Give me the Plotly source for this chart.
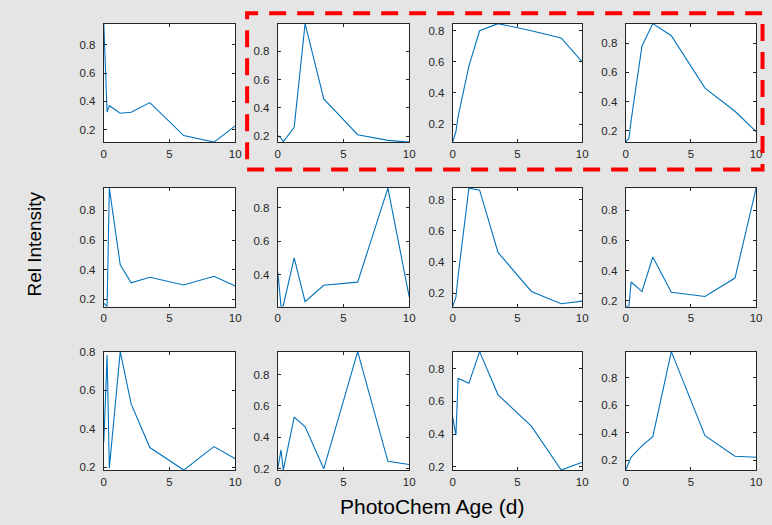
import plotly.graph_objects as go

# Photochemical age (days) sampled for every panel
age_d = [0, 0.25, 0.42, 1.25, 2.08, 3.5, 6.08, 8.38, 10.0]

# Relative intensity per panel, row-major order (3 rows x 4 columns)
rel_r1c1 = [0.949, 0.324, 0.370, 0.317, 0.324, 0.392, 0.159, 0.113, 0.227]
rel_r1c2 = [0.205, 0.185, 0.160, 0.263, 0.997, 0.464, 0.210, 0.170, 0.158]
rel_r1c3 = [0.084, 0.152, 0.250, 0.573, 0.800, 0.846, 0.800, 0.754, 0.600]
rel_r1c4 = [0.121, 0.148, 0.270, 0.782, 0.935, 0.852, 0.492, 0.333, 0.193]
rel_r2c1 = [0.175, 0.152, 0.950, 0.433, 0.312, 0.349, 0.297, 0.356, 0.290]
rel_r2c2 = [0.418, 0.209, 0.215, 0.500, 0.238, 0.336, 0.355, 0.917, 0.267]
rel_r2c3 = [0.113, 0.173, 0.310, 0.873, 0.860, 0.460, 0.210, 0.131, 0.148]
rel_r2c4 = [0.167, 0.161, 0.324, 0.260, 0.490, 0.256, 0.228, 0.350, 0.947]
rel_r3c1 = [0.328, 0.783, 0.195, 0.801, 0.529, 0.302, 0.185, 0.307, 0.244]
rel_r3c2 = [0.200, 0.320, 0.192, 0.529, 0.467, 0.200, 0.946, 0.248, 0.227]
rel_r3c3 = [0.504, 0.394, 0.740, 0.710, 0.904, 0.640, 0.448, 0.180, 0.228]
rel_r3c4 = [0.129, 0.186, 0.224, 0.305, 0.372, 0.990, 0.379, 0.229, 0.222]

panels = [
    [rel_r1c1, rel_r1c2, rel_r1c3, rel_r1c4],
    [rel_r2c1, rel_r2c2, rel_r2c3, rel_r2c4],
    [rel_r3c1, rel_r3c2, rel_r3c3, rel_r3c4],
]

x_ticks = [0, 5, 10]

W, H = 772, 525
# Axes boxes in pixels
col_px = [(102, 235), (278, 411), (455, 586), (630, 762)]
row_px = [(18, 139), (186, 307), (353, 474)]

AX_COLOR = "#262626"
LINE_COLOR = "#0072BD"
FONT = "Liberation Sans, Arial, Helvetica, sans-serif"

fig = go.Figure()
layout = {}
n = 0
for r, row in enumerate(panels):
    for c, ys in enumerate(row):
        n += 1
        xa = "xaxis" if n == 1 else f"xaxis{n}"
        ya = "yaxis" if n == 1 else f"yaxis{n}"
        xref = "x" if n == 1 else f"x{n}"
        yref = "y" if n == 1 else f"y{n}"
        fig.add_trace(go.Scatter(
            x=age_d, y=ys, mode="lines",
            line=dict(color=LINE_COLOR, width=1.1),
            xaxis=xref, yaxis=yref, showlegend=False,
        ))
        x0, x1 = col_px[c]
        t0, t1 = row_px[r]
        common = dict(
            showline=True, linecolor=AX_COLOR, linewidth=1, mirror="ticks",
            ticks="inside", ticklen=3, tickcolor=AX_COLOR, tickwidth=1,
            showgrid=False, zeroline=False,
            tickfont=dict(family=FONT, size=11.5, color=AX_COLOR),
        )
        layout[xa] = dict(
            common, domain=[x0 / W, x1 / W], anchor=yref,
            range=[min(age_d), max(age_d)], tickvals=x_ticks,
            ticktext=[str(v) for v in x_ticks], ticklabelstandoff=1,
        )
        layout[ya] = dict(
            common, domain=[1 - t1 / H, 1 - t0 / H], anchor=xref,
            range=[min(ys), max(ys)], tick0=0, dtick=0.2, tickformat=".1f",
            ticklabelstandoff=5,
        )

fig.update_layout(**layout)

fig.update_layout(
    width=W, height=H,
    margin=dict(l=0, r=0, t=0, b=0),
    paper_bgcolor="#e5e5e5",
    plot_bgcolor="#ffffff",
    font=dict(family=FONT, color="#000000"),
    annotations=[
        dict(text="Rel Intensity", x=32 / W, y=1 - 243 / H, xref="paper", yref="paper",
             textangle=-90, showarrow=False, font=dict(size=19, color="#000000"),
             xanchor="center", yanchor="middle"),
        dict(text="PhotoChem Age (d)", x=434 / W, y=1 - 511 / H, xref="paper", yref="paper",
             showarrow=False, font=dict(size=21, color="#000000"),
             xanchor="center", yanchor="middle"),
    ],
    shapes=[
        dict(type="rect", xref="paper", yref="paper",
             x0=247 / W, x1=768.5 / W, y0=1 - 167 / H, y1=1 - 7.5 / H,
             line=dict(color="#ff0000", width=4, dash="17px,11px"),
             fillcolor="rgba(0,0,0,0)"),
    ],
)

fig.write_html("out.html")
